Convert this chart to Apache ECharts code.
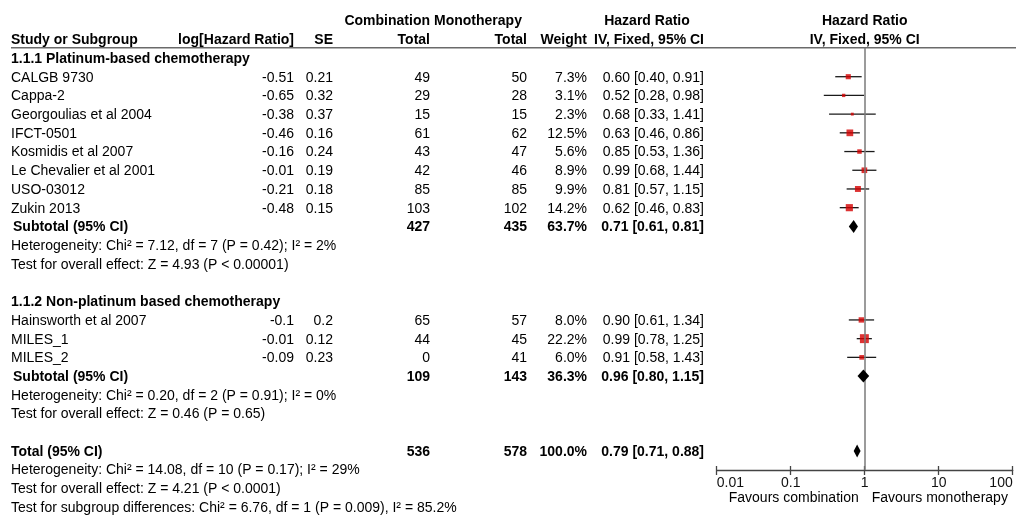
<!DOCTYPE html>
<html><head><meta charset="utf-8">
<script src="https://cdn.jsdelivr.net/npm/echarts@6/dist/echarts.min.js"></script>
<style>html,body{margin:0;padding:0;background:#fff}#c{width:1016px;height:521px}</style>
</head><body><div id="c"></div>
<script>
// ---------- data ----------
const subgroupNames = ['1.1.1 Platinum-based chemotherapy', '1.1.2 Non-platinum based chemotherapy'];
const studyNames = ['CALGB 9730','Cappa-2','Georgoulias et al 2004','IFCT-0501','Kosmidis et al 2007','Le Chevalier et al 2001','USO-03012','Zukin 2013','Hainsworth et al 2007','MILES_1','MILES_2'];
const studyGroup = [0,0,0,0,0,0,0,0,1,1,1];
const logHazardRatio = ['-0.51','-0.65','-0.38','-0.46','-0.16','-0.01','-0.21','-0.48','-0.1','-0.01','-0.09'];
const standardError = ['0.21','0.32','0.37','0.16','0.24','0.19','0.18','0.15','0.2','0.12','0.23'];
const combinationTotal = [49,29,15,61,43,42,85,103,65,44,0];
const monotherapyTotal = [50,28,15,62,47,46,85,102,57,45,41];
const weightPct = [7.3,3.1,2.3,12.5,5.6,8.9,9.9,14.2,8.0,22.2,6.0];
const hazardRatio = [0.60,0.52,0.68,0.63,0.85,0.99,0.81,0.62,0.90,0.99,0.91];
const ciLower = [0.40,0.28,0.33,0.46,0.53,0.68,0.57,0.46,0.61,0.78,0.58];
const ciUpper = [0.91,0.98,1.41,0.86,1.36,1.44,1.15,0.83,1.34,1.25,1.43];

const subtotalCombination = [427,109];
const subtotalMonotherapy = [435,143];
const subtotalWeight = [63.7,36.3];
const subtotalHR = [0.71,0.96];
const subtotalLower = [0.61,0.80];
const subtotalUpper = [0.81,1.15];
const subtotalHeterogeneity = ['Heterogeneity: Chi\u00b2 = 7.12, df = 7 (P = 0.42); I\u00b2 = 2%', 'Heterogeneity: Chi\u00b2 = 0.20, df = 2 (P = 0.91); I\u00b2 = 0%'];
const subtotalEffect = ['Test for overall effect: Z = 4.93 (P < 0.00001)', 'Test for overall effect: Z = 0.46 (P = 0.65)'];

const totalValues = [536, 578, 100.0];          // combination total, monotherapy total, weight
const totalEstimate = [0.79, 0.71, 0.88];        // HR, lower, upper
const totalNotes = ['Heterogeneity: Chi\u00b2 = 14.08, df = 10 (P = 0.17); I\u00b2 = 29%', 'Test for overall effect: Z = 4.21 (P < 0.0001)', 'Test for subgroup differences: Chi\u00b2 = 6.76, df = 1 (P = 0.009), I\u00b2 = 85.2%'];

const axisTickValues = [0.01, 0.1, 1, 10, 100];
const axisSideLabels = ['Favours combination', 'Favours monotherapy'];

// ---------- row layout ----------
const studyRow = [], subgroupRow = [], subtotalRow = [], hetRow = [], effectRow = [];
let row = -1;
for (let g = 0; g < subgroupNames.length; g++) {
  subgroupRow[g] = row++;
  studyNames.forEach((n, i) => { if (studyGroup[i] === g) studyRow[i] = row++; });
  subtotalRow[g] = row++;
  hetRow[g] = row++;
  effectRow[g] = row++;
  row++;
}
const totalRow = row;

const Y_MIN = -1.55, Y_MAX = 21.02;
const FONT = '"Liberation Sans", Arial, sans-serif';
const FS = 14;

const ciData = studyNames.map((n, i) => [ciLower[i], ciUpper[i], studyRow[i]]);
const squareData = studyNames.map((n, i) => [hazardRatio[i], studyRow[i], weightPct[i]]);
const diamondData = subgroupNames.map((n, g) => [subtotalHR[g], subtotalLower[g], subtotalUpper[g], subtotalRow[g]]);
diamondData.push([totalEstimate[0], totalEstimate[1], totalEstimate[2], totalRow]);

const chart = echarts.init(document.getElementById('c'), null, {renderer: 'canvas'});

const baseX = {
  type: 'log', logBase: 10, min: axisTickValues[0], max: axisTickValues[axisTickValues.length - 1],
  gridIndex: 0, position: 'bottom', splitLine: {show: false}
};

chart.setOption({
  animation: false,
  backgroundColor: '#fff',
  grid: {left: 716.7, right: 3.3, top: 47.7, bottom: 51, containLabel: false},
  xAxis: [
    Object.assign({}, baseX, {
      axisLine: {show: true, onZero: false, lineStyle: {color: '#444', width: 1.3}},
      axisTick: {show: true, length: 5, lineStyle: {color: '#444', width: 1.3}},
      axisLabel: {show: true, margin: 6, fontSize: 14, color: '#111', fontFamily: FONT,
        alignMinLabel: 'left', alignMaxLabel: 'right',
        formatter: v => String(Number(Number(v).toPrecision(3)))}
    }),
    Object.assign({}, baseX, {
      axisLine: {show: false, onZero: false},
      axisTick: {show: true, inside: true, length: 4, lineStyle: {color: '#444', width: 1.3}},
      axisLabel: {show: false}
    })
  ],
  yAxis: {type: 'value', min: Y_MIN, max: Y_MAX, inverse: true, show: false, gridIndex: 0},
  series: [
    {
      type: 'custom', xAxisIndex: 0, yAxisIndex: 0, data: ciData, encode: {x: [0, 1], y: 2}, z: 3,
      renderItem: (params, api) => {
        const a = api.coord([api.value(0), api.value(2)]);
        const b = api.coord([api.value(1), api.value(2)]);
        return {type: 'line', shape: {x1: a[0], y1: a[1], x2: b[0], y2: b[1]}, style: {stroke: '#1a1a1a', lineWidth: 1.3}};
      }
    },
    {
      type: 'scatter', xAxisIndex: 0, yAxisIndex: 0, data: squareData, z: 4,
      symbol: 'rect', symbolSize: v => 1.9 * Math.sqrt(v[2]),
      itemStyle: {color: '#d40000'},
      markLine: {
        silent: true, symbol: ['none', 'none'], label: {show: false},
        lineStyle: {color: '#7a7a7a', width: 1.5, type: 'solid'},
        data: [{xAxis: 1}]
      }
    },
    {
      type: 'custom', xAxisIndex: 0, yAxisIndex: 0, data: diamondData, encode: {x: [0, 1, 2], y: 3}, z: 5,
      renderItem: (params, api) => {
        const c = api.coord([api.value(0), api.value(3)]);
        const l = api.coord([api.value(1), api.value(3)]);
        const r = api.coord([api.value(2), api.value(3)]);
        const h = 6.5;
        return {type: 'polygon', shape: {points: [[l[0], c[1]], [c[0], c[1] - h], [r[0], c[1]], [c[0], c[1] + h]]}, style: {fill: '#000'}};
      }
    }
  ]
});

// ---------- table text ----------
const yPix = r => chart.convertToPixel({yAxisIndex: 0}, r);
const xPix = v => chart.convertToPixel({xAxisIndex: 0}, v);
const T = (text, x, r, align, bold) => ({
  type: 'text', x: x, y: yPix(r) + 1, silent: true,
  style: {text: String(text), fill: '#000', font: (bold ? 'bold ' : '') + FS + 'px ' + FONT, align: align, verticalAlign: 'middle'}
});
const ciText = (h, l, u) => h.toFixed(2) + ' [' + l.toFixed(2) + ', ' + u.toFixed(2) + ']';
const pct = w => w.toFixed(1) + '%';

const COL = {name: 11, logHR: 294, se: 333, comb: 430, mono: 527, weight: 587, ci: 704};
const plotCenter = xPix(1);
const g = [];
// headers
g.push(T('Combination', COL.comb, -3, 'right', true));
g.push(T('Monotherapy', 478, -3, 'center', true));
g.push(T('Hazard Ratio', 647, -3, 'center', true));
g.push(T('Hazard Ratio', plotCenter, -3, 'center', true));
g.push(T('Study or Subgroup', COL.name, -2, 'left', true));
g.push(T('log[Hazard Ratio]', COL.logHR, -2, 'right', true));
g.push(T('SE', COL.se, -2, 'right', true));
g.push(T('Total', COL.comb, -2, 'right', true));
g.push(T('Total', COL.mono, -2, 'right', true));
g.push(T('Weight', COL.weight, -2, 'right', true));
g.push(T('IV, Fixed, 95% CI', COL.ci, -2, 'right', true));
g.push(T('IV, Fixed, 95% CI', plotCenter, -2, 'center', true));
// header rule
const ruleY = yPix(Y_MIN);
g.push({type: 'line', silent: true, shape: {x1: COL.name, y1: ruleY, x2: 1016, y2: ruleY}, style: {stroke: '#6a6a6a', lineWidth: 1.5}});

subgroupNames.forEach((name, k) => {
  g.push(T(name, COL.name, subgroupRow[k], 'left', true));
  g.push(T('Subtotal (95% CI)', COL.name + 2, subtotalRow[k], 'left', true));
  g.push(T(subtotalCombination[k], COL.comb, subtotalRow[k], 'right', true));
  g.push(T(subtotalMonotherapy[k], COL.mono, subtotalRow[k], 'right', true));
  g.push(T(pct(subtotalWeight[k]), COL.weight, subtotalRow[k], 'right', true));
  g.push(T(ciText(subtotalHR[k], subtotalLower[k], subtotalUpper[k]), COL.ci, subtotalRow[k], 'right', true));
  g.push(T(subtotalHeterogeneity[k], COL.name, hetRow[k], 'left', false));
  g.push(T(subtotalEffect[k], COL.name, effectRow[k], 'left', false));
});
studyNames.forEach((name, i) => {
  const r = studyRow[i];
  g.push(T(name, COL.name, r, 'left', false));
  g.push(T(logHazardRatio[i], COL.logHR, r, 'right', false));
  g.push(T(standardError[i], COL.se, r, 'right', false));
  g.push(T(combinationTotal[i], COL.comb, r, 'right', false));
  g.push(T(monotherapyTotal[i], COL.mono, r, 'right', false));
  g.push(T(pct(weightPct[i]), COL.weight, r, 'right', false));
  g.push(T(ciText(hazardRatio[i], ciLower[i], ciUpper[i]), COL.ci, r, 'right', false));
});
g.push(T('Total (95% CI)', COL.name, totalRow, 'left', true));
g.push(T(totalValues[0], COL.comb, totalRow, 'right', true));
g.push(T(totalValues[1], COL.mono, totalRow, 'right', true));
g.push(T(pct(totalValues[2]), COL.weight, totalRow, 'right', true));
g.push(T(ciText(totalEstimate[0], totalEstimate[1], totalEstimate[2]), COL.ci, totalRow, 'right', true));
totalNotes.forEach((t, k) => g.push(T(t, COL.name, totalRow + 1 + k, 'left', false)));

// favours labels
const favY = yPix(Y_MAX) + 28;
g.push({type: 'text', x: plotCenter - 6, y: favY, silent: true, style: {text: axisSideLabels[0], fill: '#000', font: FS + 'px ' + FONT, align: 'right', verticalAlign: 'middle'}});
g.push({type: 'text', x: plotCenter + 7, y: favY, silent: true, style: {text: axisSideLabels[1], fill: '#000', font: FS + 'px ' + FONT, align: 'left', verticalAlign: 'middle'}});

chart.setOption({graphic: g});
</script>
</body></html>
